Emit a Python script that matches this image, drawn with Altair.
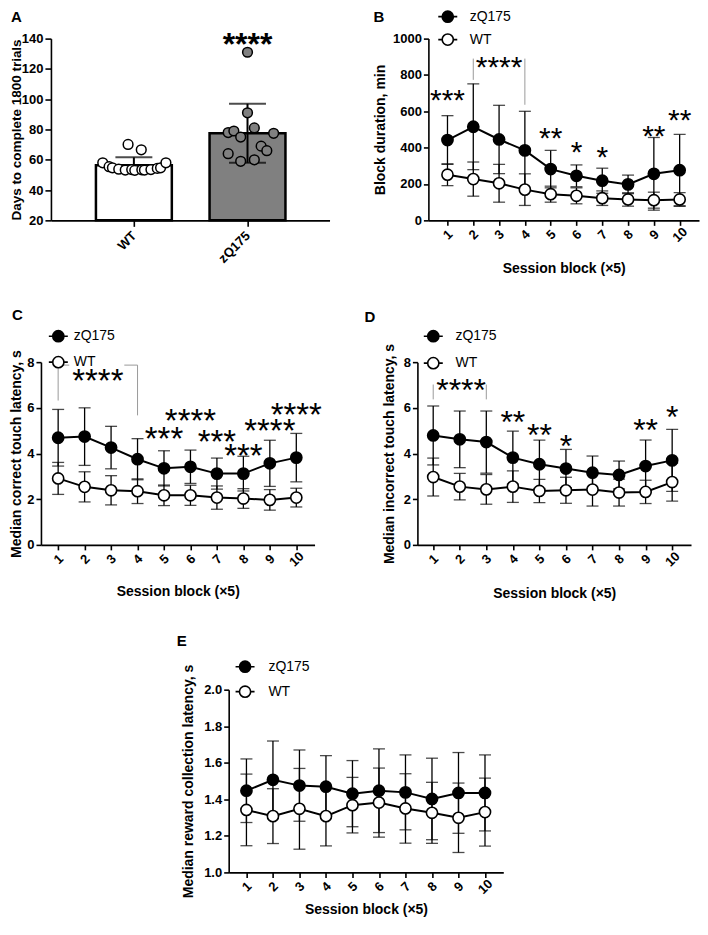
import altair as alt
import pandas as pd

FONT = "Liberation Sans"
BLOCKS = list(range(1, 11))
GROUPS = ["zQ175", "WT"]
LEG_SYMBOL = "M-1.7,0L-1,0M1,0L1.7,0M-1,0A1,1,0,1,1,1,0A1,1,0,1,1,-1,0Z"

# ---------------- Panel A ----------------
a_groups = ["WT", "zQ175"]
a_mean = [56.4, 77.5]
a_sd = [5.2, 19.5]
a_err_down = [False, True]
a_wt_vals = [58.0, 55.4, 54.7, 53.8, 53.2, 53.5, 53.0, 53.4, 53.2, 53.5, 54.3, 54.7, 58.0, 70.1, 66.6]
a_wt_jit = [-0.274, -0.218, -0.189, -0.133, -0.076, -0.019, 0.008, 0.070, 0.093, 0.150, 0.206, 0.235, 0.282, -0.051, 0.065]
a_zq_vals = [131, 91, 78, 79, 75, 81, 77.5, 64, 69, 66, 59, 60]
a_zq_jit = [0, 0, -0.17, -0.12, -0.06, 0.06, 0.23, -0.17, 0.12, 0.17, -0.06, 0.06]
a_star_x = [2]
a_star_y = [141.5]
a_star_t = ["****"]

# ---------------- Panel B ----------------
b_zq_mean = [442, 515, 445, 385, 282, 245, 218, 198, 256, 276]
b_zq_sd = [134, 236, 188, 215, 103, 60, 69, 51, 200, 197]
b_wt_mean = [251, 227, 204, 169, 144, 135, 122, 115, 111, 115]
b_wt_sd = [60, 94, 104, 87, 44, 44, 40, 37, 44, 37]
b_star_x = [1, 3, 5, 6, 7, 9, 10]
b_star_y = [704, 882, 491, 418, 391, 504, 591]
b_star_t = ["***", "****", "**", "*", "*", "**", "**"]
b_brk_x = [2, 4]
b_brk_x2 = [2, 4]
b_brk_y = [773, 636]
b_brk_y2 = [890, 890]

# ---------------- Panel C ----------------
c_zq_mean = [4.69, 4.74, 4.26, 3.75, 3.35, 3.42, 3.12, 3.12, 3.57, 3.82]
c_zq_sd = [1.24, 1.26, 0.93, 0.90, 0.77, 0.73, 0.68, 0.76, 1.01, 1.06]
c_wt_mean = [2.91, 2.54, 2.39, 2.35, 2.17, 2.17, 2.07, 2.03, 1.97, 2.07]
c_wt_sd = [0.70, 0.66, 0.64, 0.54, 0.45, 0.44, 0.51, 0.43, 0.45, 0.41]
c_star_x = [2.5, 5, 6, 7, 8, 9, 10]
c_star_y = [7.53, 4.98, 5.78, 4.87, 4.25, 5.35, 6.03]
c_star_t = ["****", "***", "****", "***", "***", "****", "****"]
c_brk_x = [1, 4, 1, 3.5]
c_brk_x2 = [1, 4, 1.42, 4]
c_brk_y = [6.32, 5.67, 7.87, 7.87]
c_brk_y2 = [7.87, 7.87, 7.87, 7.87]

# ---------------- Panel D ----------------
d_zq_mean = [4.79, 4.62, 4.50, 3.82, 3.53, 3.34, 3.16, 3.06, 3.45, 3.70]
d_zq_sd = [1.29, 1.24, 1.36, 1.16, 1.06, 0.84, 0.73, 0.61, 1.14, 1.36]
d_wt_mean = [2.97, 2.55, 2.43, 2.55, 2.36, 2.39, 2.42, 2.29, 2.32, 2.75]
d_wt_sd = [0.83, 0.58, 0.65, 0.69, 0.51, 0.57, 0.72, 0.59, 0.51, 0.83]
d_star_x = [2.05, 4, 5, 6, 9, 10]
d_star_y = [7.1, 5.71, 5.17, 4.69, 5.35, 5.93]
d_star_t = ["****", "**", "**", "*", "**", "*"]
d_brk_x = [1, 3]
d_brk_x2 = [1, 3]
d_brk_y = [6.37, 6.37]
d_brk_y2 = [7.02, 7.02]

# ---------------- Panel E ----------------
e_zq_mean = [1.447, 1.507, 1.475, 1.469, 1.431, 1.447, 1.438, 1.402, 1.435, 1.435]
e_zq_sd = [0.174, 0.212, 0.195, 0.170, 0.181, 0.229, 0.205, 0.223, 0.221, 0.208]
e_wt_mean = [1.342, 1.308, 1.348, 1.308, 1.368, 1.382, 1.350, 1.326, 1.299, 1.330]
e_wt_sd = [0.196, 0.150, 0.221, 0.163, 0.152, 0.189, 0.190, 0.167, 0.190, 0.186]


def letter_layer(letter, x, y):
    return alt.Chart(pd.DataFrame({"t": [letter]})).mark_text(
        font=FONT, fontSize=15, fontWeight="bold", align="left", baseline="middle", color="black"
    ).encode(x=alt.value(x), y=alt.value(y), text="t:N")


def frame_layer(w, h, box):
    """Invisible rectangle that fixes the cell's bounds (left, top, right, bottom margins)."""
    L, T, R, B = box
    return alt.Chart(pd.DataFrame({"f": [0]})).mark_rect(opacity=0).encode(
        x=alt.value(-L), x2=alt.value(w + R), y=alt.value(-T), y2=alt.value(h + B))


def anchor():
    """1px invisible cell that pins each row's left edge."""
    return frame_layer(1, 1, (0, 0, 0, 0)).properties(width=1, height=1)


# ---------------- build A ----------------
def panel_a(w, h, box):
    xs = alt.Scale(domain=[0.314, 2.678], nice=False, zero=False)
    ys = alt.Scale(domain=[20, 140], nice=False, zero=False)
    xax = alt.Axis(values=[1, 2], labelExpr=f"{a_groups!r}[datum.value - 1]", title=None,
                   labelAngle=-45, labelAlign="right", labelBaseline="middle", labelPadding=7,
                   tickSize=6, labelFlush=False)
    yax = alt.Axis(values=[20, 40, 60, 80, 100, 120, 140], title="Days to complete 1800 trials",
                   titleX=-27, tickSize=6, titleFontSize=13.5)
    X = lambda f: alt.X(f, type="quantitative", scale=xs, axis=xax)
    Y = lambda f: alt.Y(f, type="quantitative", scale=ys, axis=yax)
    fill = lambda: alt.Fill("group:N", scale=alt.Scale(domain=a_groups, range=["white", "#808080"]), legend=None)

    bar_df = pd.DataFrame({
        "pos": [1, 2], "group": a_groups, "mean": a_mean,
        "lo": [m - s if d else m for m, s, d in zip(a_mean, a_sd, a_err_down)],
        "hi": [m + s for m, s in zip(a_mean, a_sd)],
    })
    cap_rows = []
    for p, lo, hi, d in zip(bar_df["pos"], bar_df["lo"], bar_df["hi"], a_err_down):
        cap_rows.append({"pos": p, "v": hi})
        if d:
            cap_rows.append({"pos": p, "v": lo})
    cap_df = pd.DataFrame(cap_rows)
    pts = pd.DataFrame({
        "px": [1 + j for j in a_wt_jit] + [2 + j for j in a_zq_jit],
        "val": a_wt_vals + a_zq_vals,
        "group": ["WT"] * len(a_wt_vals) + ["zQ175"] * len(a_zq_vals),
    })
    stars = pd.DataFrame({"x": a_star_x, "y": a_star_y, "t": a_star_t})

    bars = alt.Chart(bar_df).mark_bar(size=76, stroke="black", strokeWidth=2.5).encode(
        x=X("pos"), y=Y("mean"), y2=alt.datum(20), fill=fill())
    err = alt.Chart(bar_df).mark_rule(color="black", strokeWidth=2).encode(
        x=X("pos"), y=Y("lo"), y2="hi:Q")
    caps = alt.Chart(cap_df).mark_tick(orient="horizontal", size=37, thickness=2, color="black").encode(
        x=X("pos"), y=Y("v"))
    points = alt.Chart(pts).mark_point(shape="circle", filled=True, size=95, stroke="black",
                                       strokeWidth=1.5, opacity=1).encode(
        x=X("px"), y=Y("val"), fill=fill())
    st = alt.Chart(stars).mark_text(font=FONT, fontSize=32, fontWeight="bold", baseline="middle",
                                    dy=9, color="black").encode(x=X("x"), y=Y("y"), text="t:N")
    return alt.layer(frame_layer(w, h, box), bars, err, caps, points, st,
                     letter_layer("A", -40, -22)).properties(width=w, height=h)


# ---------------- line panels ----------------
def line_panel(zq_mean, zq_sd, wt_mean, wt_sd, ydom, yvals, yfmt, ytitle, w, h, box, xdom,
               title_x, title_y, stars, star_fs, brk, leg, letter, letter_xy):
    xs = alt.Scale(domain=xdom, nice=False, zero=False)
    ys = alt.Scale(domain=ydom, nice=False, zero=False)
    xax = alt.Axis(values=BLOCKS, format="d", labelAngle=-45, labelAlign="center",
                   labelBaseline="middle", labelPadding=9, title="Session block (×5)",
                   titleY=title_y, labelFlush=False, tickSize=5)
    yax = alt.Axis(values=yvals, format=yfmt, title=ytitle, titleX=title_x, tickSize=5)
    X = lambda f: alt.X(f, type="quantitative", scale=xs, axis=xax)
    Y = lambda f: alt.Y(f, type="quantitative", scale=ys, axis=yax)

    rows = []
    for g, ms, ss in (("zQ175", zq_mean, zq_sd), ("WT", wt_mean, wt_sd)):
        for b, m, s in zip(BLOCKS, ms, ss):
            rows.append({"block": b, "group": g, "mean": m, "lo": m - s, "hi": m + s})
    df = pd.DataFrame(rows)

    err = alt.Chart(df).mark_rule(color="black", strokeWidth=1.3).encode(x=X("block"), y=Y("lo"), y2="hi:Q")
    cap_lo = alt.Chart(df).mark_tick(orient="horizontal", size=12, thickness=1.3, color="black").encode(
        x=X("block"), y=Y("lo"))
    cap_hi = alt.Chart(df).mark_tick(orient="horizontal", size=12, thickness=1.3, color="black").encode(
        x=X("block"), y=Y("hi"))
    line = alt.Chart(df).mark_line(color="black", strokeWidth=2).encode(
        x=X("block"), y=Y("mean"), detail="group:N")
    pts = alt.Chart(df).mark_point(shape="circle", filled=True, size=125, stroke="black",
                                   strokeWidth=1.6, opacity=1).encode(
        x=X("block"), y=Y("mean"),
        fill=alt.Fill("group:N", scale=alt.Scale(domain=GROUPS, range=["black", "white"]),
                      legend=alt.Legend(orient="none", legendX=leg[0], legendY=leg[1], title=None,
                                        symbolType=LEG_SYMBOL, symbolSize=125, symbolStrokeWidth=1.6,
                                        symbolStrokeColor="black", labelFont=FONT, labelFontSize=14,
                                        labelFontWeight="normal", labelColor="black",
                                        labelOffset=leg[3], rowPadding=leg[2], padding=0)))
    layers = [frame_layer(w, h, box), err, cap_lo, cap_hi, line, pts]
    if brk is not None:
        bdf = pd.DataFrame({"x": brk[0], "x2": brk[1], "y": brk[2], "y2": brk[3]})
        layers.insert(1, alt.Chart(bdf).mark_rule(color="#9a9a9a", strokeWidth=1).encode(
            x=X("x"), x2="x2:Q", y=Y("y"), y2="y2:Q"))
    if stars is not None:
        sdf = pd.DataFrame({"x": stars[0], "y": stars[1], "t": stars[2]})
        layers.append(alt.Chart(sdf).mark_text(font=FONT, fontSize=star_fs, baseline="middle",
                                               dy=round(0.276 * star_fs, 1), color="black").encode(
            x=X("x"), y=Y("y"), text="t:N"))
    layers.append(letter_layer(letter, *letter_xy))
    return alt.layer(*layers).properties(width=w, height=h)


chartA = panel_a(279, 182, (40, 30, 44, 86))
chartB = line_panel(b_zq_mean, b_zq_sd, b_wt_mean, b_wt_sd, [0, 1000], [0, 200, 400, 600, 800, 1000], "d",
                    "Block duration, min", 271, 182, (55, 30, 1, 86), [0.26, 10.75], -41, 41,
                    (b_star_x, b_star_y, b_star_t), 30, (b_brk_x, b_brk_x2, b_brk_y, b_brk_y2),
                    (12.4, -29, 5, 15), "B", (-55, -22))
chartC = line_panel(c_zq_mean, c_zq_sd, c_wt_mean, c_wt_sd, [0, 8], [0, 2, 4, 6, 8], "d",
                    "Median correct touch latency, s", 274, 183, (31, 56, 50, 89), [0.35, 10.69], -17, 40,
                    (c_star_x, c_star_y, c_star_t), 33, (c_brk_x, c_brk_x2, c_brk_y, c_brk_y2),
                    (10.4, -33, 8, 8.4), "C", (-29, -47))
chartD = line_panel(d_zq_mean, d_zq_sd, d_wt_mean, d_wt_sd, [0, 8], [0, 2, 4, 6, 8], "d",
                    "Median incorrect touch latency, s", 274, 183, (53, 56, 8, 89), [0.405, 10.71], -21, 42,
                    (d_star_x, d_star_y, d_star_t), 32, (d_brk_x, d_brk_x2, d_brk_y, d_brk_y2),
                    (8.9, -33, 9, 15.2), "D", (-53, -45))
chartE = line_panel(e_zq_mean, e_zq_sd, e_wt_mean, e_wt_sd, [1.0, 2.0], [1.0, 1.2, 1.4, 1.6, 1.8, 2.0], ".1f",
                    "Median reward collection latency, s", 275, 183, (220, 56, 5, 44), [0.33, 10.69], -33, 30,
                    None, 30, None, (9.4, -30, 7, 16.4), "E", (-52, -49))

row1 = alt.hconcat(anchor(), chartA, chartB, spacing=0).resolve_scale(fill="independent")
row2 = alt.hconcat(anchor(), chartC, chartD, spacing=0).resolve_scale(fill="independent")
row3 = alt.hconcat(anchor(), chartE, spacing=0).resolve_scale(fill="independent")

chart = alt.vconcat(row1, row2, row3, spacing=0, padding=0).resolve_scale(
    fill="independent"
).configure(font=FONT).configure_view(stroke=None).configure_axis(
    domainColor="black", domainWidth=1.6, tickColor="black", tickWidth=1.6,
    labelColor="black", titleColor="black", labelFont=FONT, titleFont=FONT,
    labelFontSize=13, labelFontWeight="bold", titleFontSize=14, titleFontWeight="bold",
    grid=False, labelOverlap=False, labelBound=False
)

chart.save("out.html", embed_options={"renderer": "svg", "actions": False})
